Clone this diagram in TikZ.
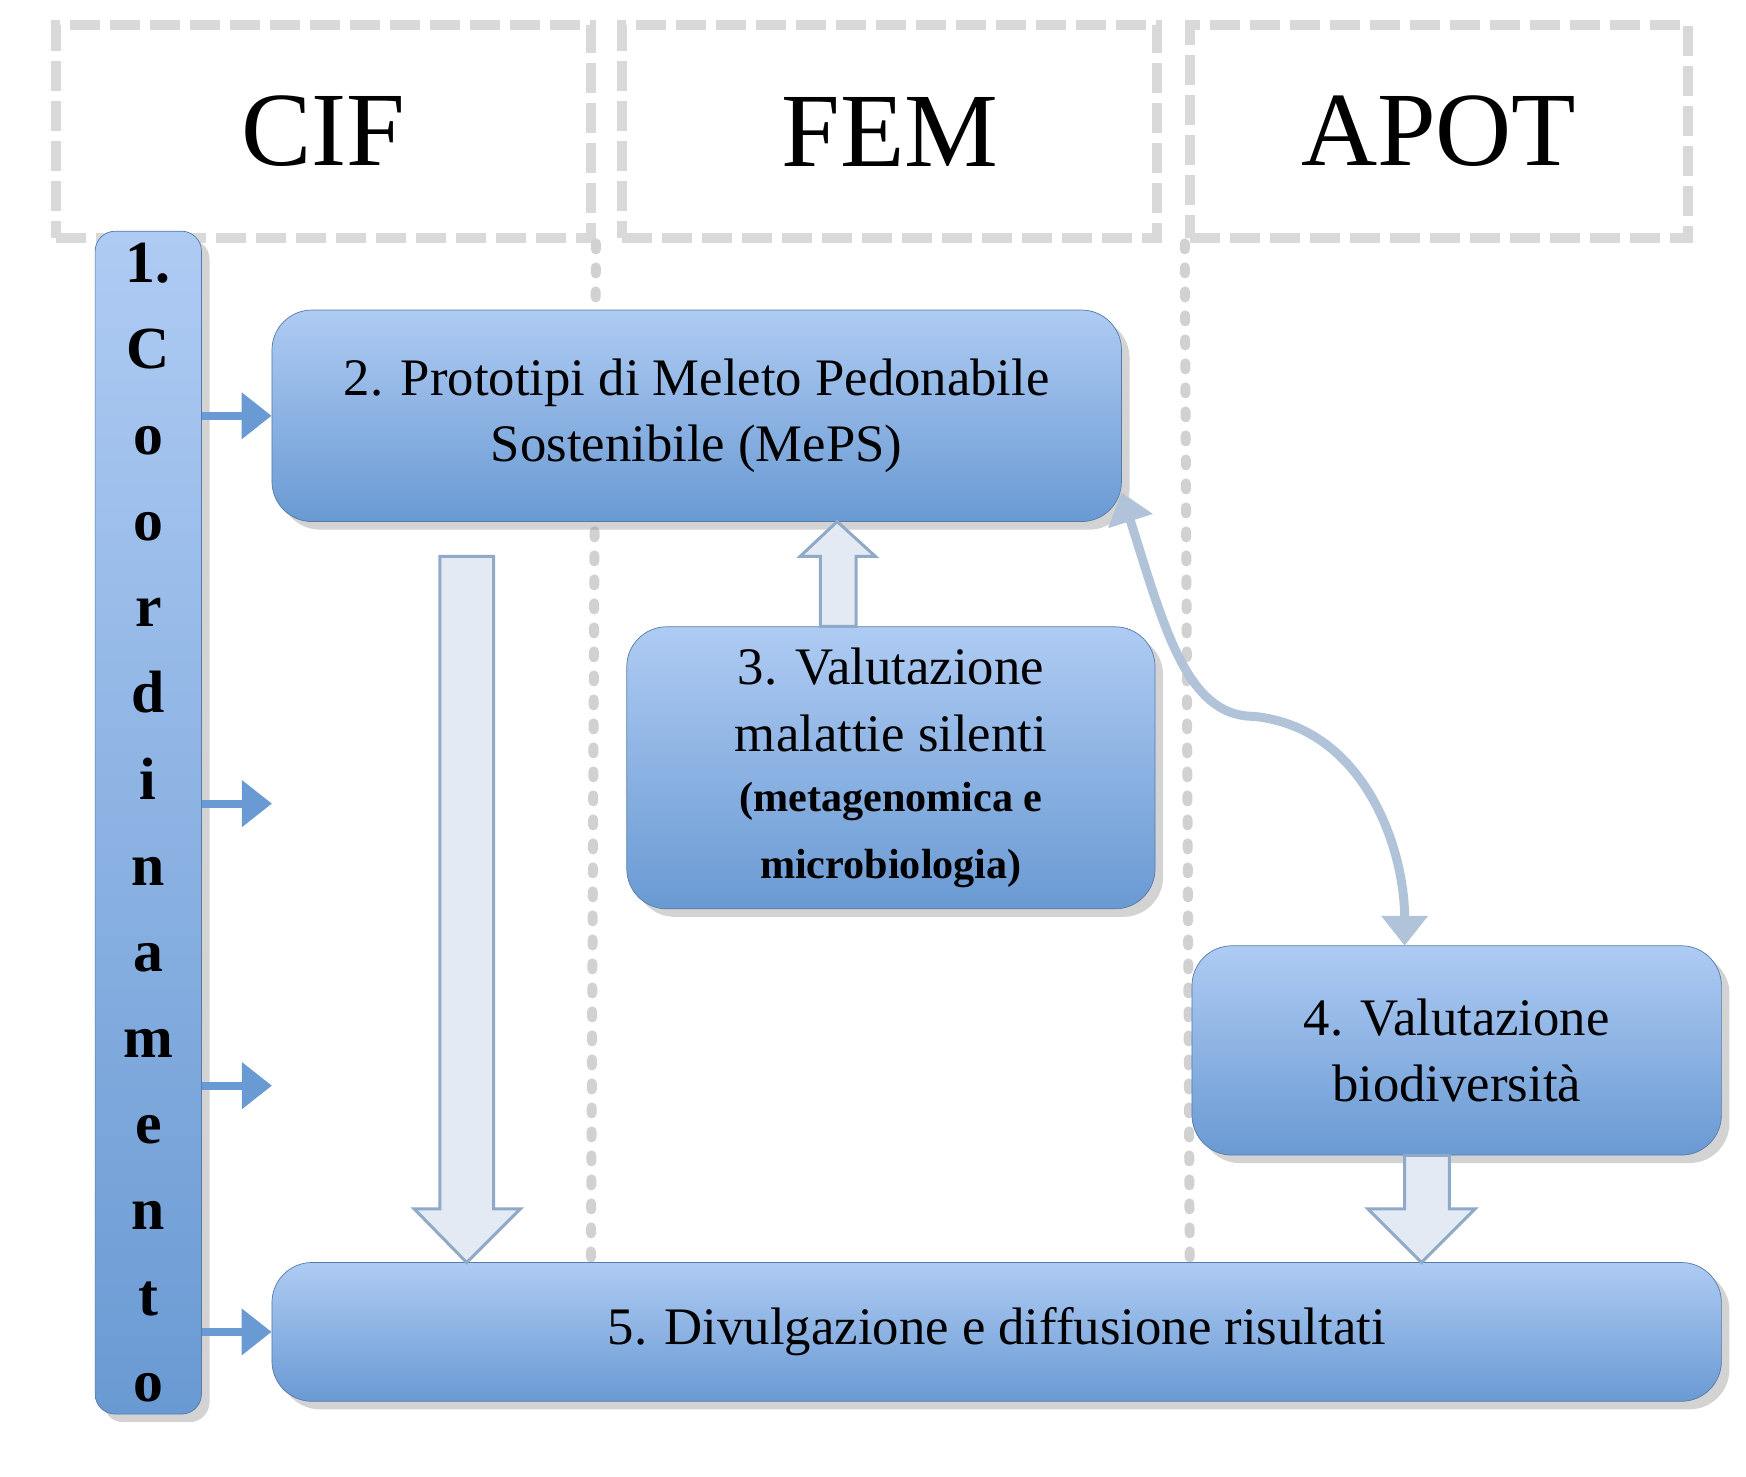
\documentclass[tikz,border=0pt]{standalone}
\usepackage{fontspec}
\setmainfont{Liberation Serif}
\usetikzlibrary{arrows.meta,shadows,calc}
\definecolor{boxtop}{HTML}{AECBF3}
\definecolor{boxbot}{HTML}{6A9AD3}
\definecolor{hollow}{HTML}{E3EAF3}
\definecolor{hollowdraw}{HTML}{8FA9C8}
\def\pxu{0.11192mm}
\newcommand\smallbold{\fontsize{12}{17}\selectfont\bfseries}
\begin{document}
\begin{tikzpicture}[x=0.11192mm, y=-0.11192mm,
    >={Triangle[length=3mm,width=4.5mm]},
    ]
% ------------------------------------------------- 
% Styles
\tikzset{
  box/.style={rounded corners=4mm, top color=boxtop, bottom color=boxbot,
    draw=boxbot!80!black, very thin, drop shadow={opacity=0.35},
    align=center, font=\fontsize{15}{19}\selectfont},
  head/.style={draw=black!15, line width=1mm, dash pattern=on 3mm off 1mm,
    font=\fontsize{30}{32}\selectfont},
  lane/.style={draw=black!18, line width=1mm, dash pattern=on 0.6mm off 1.8mm, line cap=round},
  side/.style={->, draw=boxbot, line width=0.8mm},
  hollowarrow/.style={fill=hollow, draw=hollowdraw, line width=0.3mm},
  curved/.style={<->, draw=hollowdraw!70, line width=0.9mm}
}
\useasboundingbox (0,0) rectangle (1560,1319);
% -------------------------------------------------
% Partner headers and lanes
\node [head, minimum width=478*\pxu, minimum height=191*\pxu] (cif) at (289,117.5) {CIF};
\node [head, minimum width=478*\pxu, minimum height=191*\pxu] (fem) at (795,117.5) {FEM};
\node [head, minimum width=445*\pxu, minimum height=191*\pxu] (apot) at (1285.5,117.5) {APOT};
\coordinate (laneA) at (528,1125);
\coordinate (laneB) at (1063,1125);
\draw [lane] (cif.south east) -- (laneA);
\draw [lane] (apot.south west) -- (laneB);
% -------------------------------------------------
% Work packages
\node [box, rounded corners=2mm, minimum width=95*\pxu, minimum height=1034*\pxu,
  font=\fontsize{17}{24.5}\selectfont\bfseries] (coord) at (132.5,735)
  {1.\\C\\o\\o\\r\\d\\i\\n\\a\\m\\e\\n\\t\\o};
\node [box, minimum width=759*\pxu, minimum height=189*\pxu] (mepS) at (622.5,371.5)
  {2. Prototipi di Meleto Pedonabile\\Sostenibile (MePS)};
\node [box, minimum width=472*\pxu, minimum height=252*\pxu] (malattie) at (796,686)
  {3. Valutazione\\malattie silenti\\[-2pt]
   \smallbold (metagenomica e\\\smallbold microbiologia)};
\node [box, minimum width=473*\pxu, minimum height=187*\pxu] (biodiv) at (1301.5,938.5)
  {4. Valutazione\\biodiversità};
\node [box, minimum width=1295*\pxu, minimum height=124*\pxu] (divulg) at (890.5,1190)
  {5. Divulgazione e diffusione risultati};
% -------------------------------------------------
% Arrows from coordination
\coordinate (c3) at (243,718);
\coordinate (c4) at (243,970);
\draw [side] (coord.east |- mepS.west) -- (mepS.west);
\draw [side] (coord.east |- c3) -- (c3);
\draw [side] (coord.east |- c4) -- (c4);
\draw [side] (coord.east |- divulg.west) -- (divulg.west);
% Hollow block arrows
\draw [hollowarrow] (393,497) -- (441,497) -- (441,1080) -- (465,1080)
  -- (417,1128) -- (370,1080) -- (393,1080) -- cycle;
\draw [hollowarrow] (malattie.north -| 733,0) -- (733,497) -- (715,497)
  -- (748,466) -- (782,497) -- (765,497) -- (malattie.north -| 765,0) -- cycle;
\draw [hollowarrow] (biodiv.south -| 1255,0) -- (1255,1080) -- (1222,1080)
  -- (1270,1128) -- (1318,1080) -- (1295,1080) -- (biodiv.south -| 1295,0) -- cycle;
% Link between MePS and biodiversity
\draw [curved] (1002,440) .. controls (1040,560) and (1060,640) .. (1120,640)
  .. controls (1220,650) and (1255,760) .. (1255,845);
\end{tikzpicture}
\end{document}
